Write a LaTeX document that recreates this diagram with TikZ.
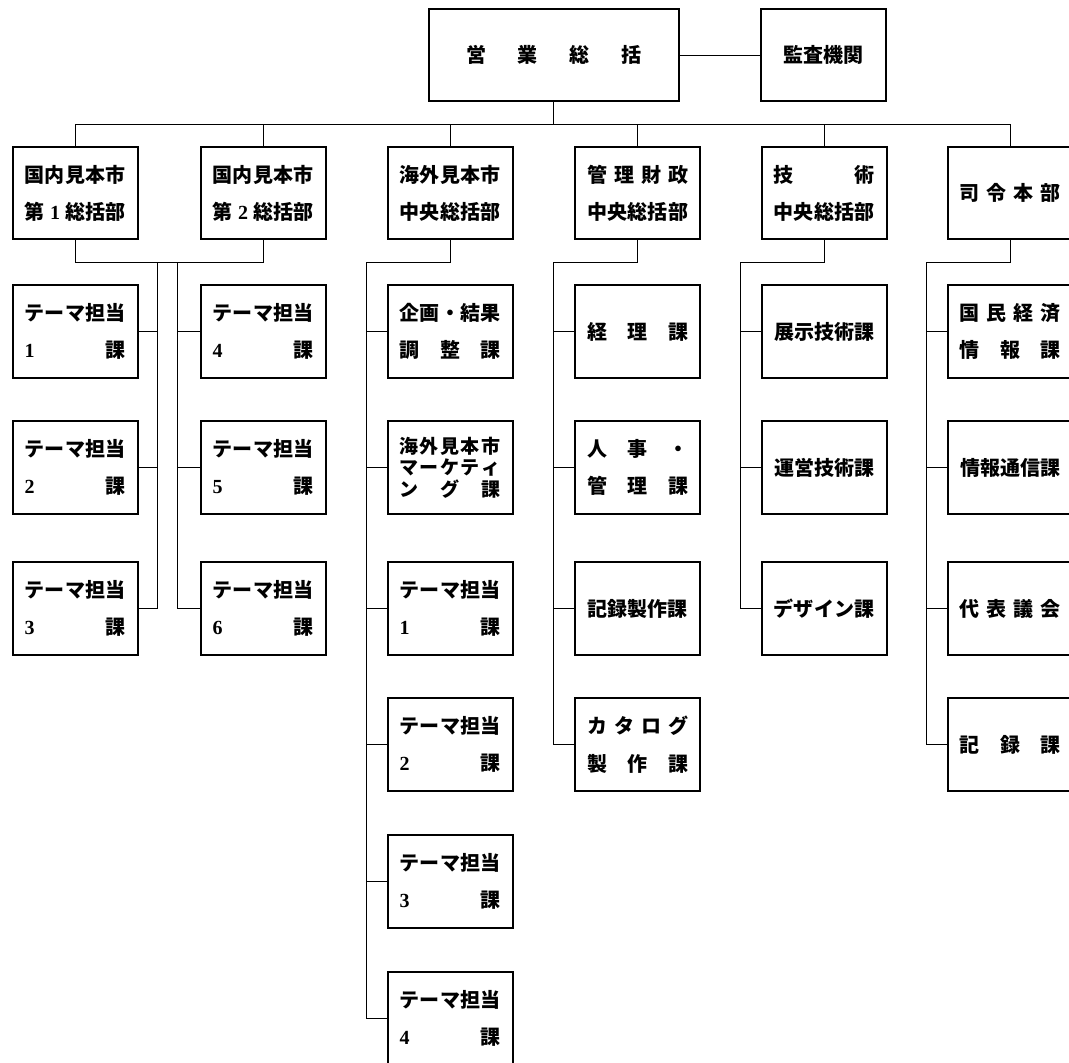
\documentclass[tikz,border=0pt]{standalone}
\usepackage{fontspec}
\newfontfamily\jpfont{Noto Sans CJK JP}
\newfontfamily\numfont{Liberation Serif}
\newcommand{\nm}[1]{{\numfont\bfseries #1}}
\newcommand{\kline}[1]{\makebox[101pt]{#1}}

\begin{document}
\begin{tikzpicture}[
    x=1pt,
    y=-1pt,
    ka/.style={draw, line width=2pt, minimum width=125pt, minimum height=93pt,
      inner sep=0pt, align=center, font=\jpfont\bfseries\fontsize{20}{37.5}\selectfont},
    tight/.style={font=\jpfont\bfseries\fontsize{19}{21.5}\selectfont},
    link/.style={line width=1pt}
]
\useasboundingbox (0,0) rectangle (1069,1063);

% -------------------------------------------------
% 営業総括・監査機関
% -------------------------------------------------

\node[ka, minimum width=250pt, minimum height=92pt] (eigyo) at (553.6,55.3)
  {\makebox[175pt]{営\hfill 業\hfill 総\hfill 括}};
\node[ka, minimum height=92pt] (kansa) at (823.4,55.3) {監査機関};

% -------------------------------------------------
% 総括部
% -------------------------------------------------

\node[ka, minimum height=92pt] (kokunai1) at (75,193.3)
  {\kline{国\hfill 内\hfill 見\hfill 本\hfill 市}\\\kline{第\hfill\nm{1}\hfill 総括部}};
\node[ka, minimum height=92pt] (kokunai2) at (263,193.3)
  {\kline{国\hfill 内\hfill 見\hfill 本\hfill 市}\\\kline{第\hfill\nm{2}\hfill 総括部}};
\node[ka, minimum height=92pt] (kaigai) at (450,193.3)
  {\kline{海\hfill 外\hfill 見\hfill 本\hfill 市}\\\kline{中\hfill 央\hfill 総\hfill 括\hfill 部}};
\node[ka, minimum height=92pt] (kanri) at (637.6,193.3)
  {\kline{管\hfill 理\hfill 財\hfill 政}\\\kline{中\hfill 央\hfill 総\hfill 括\hfill 部}};
\node[ka, minimum height=92pt] (gijutsu) at (824,193.3)
  {\kline{技\hfill 術}\\\kline{中\hfill 央\hfill 総\hfill 括\hfill 部}};
\node[ka, minimum height=92pt] (shirei) at (1010,193.3)
  {\kline{司\hfill 令\hfill 本\hfill 部}};

% -------------------------------------------------
% 国内見本市 第1・第2総括部の課
% -------------------------------------------------

\node[ka] (a1) at (75,331.5) {\kline{テ\hfill ー\hfill マ\hfill 担\hfill 当}\\\kline{\nm{1}\hfill 課}};
\node[ka] (a2) at (75,467.5) {\kline{テ\hfill ー\hfill マ\hfill 担\hfill 当}\\\kline{\nm{2}\hfill 課}};
\node[ka] (a3) at (75,608.5) {\kline{テ\hfill ー\hfill マ\hfill 担\hfill 当}\\\kline{\nm{3}\hfill 課}};

\node[ka] (b1) at (263,331.5) {\kline{テ\hfill ー\hfill マ\hfill 担\hfill 当}\\\kline{\nm{4}\hfill 課}};
\node[ka] (b2) at (263,467.5) {\kline{テ\hfill ー\hfill マ\hfill 担\hfill 当}\\\kline{\nm{5}\hfill 課}};
\node[ka] (b3) at (263,608.5) {\kline{テ\hfill ー\hfill マ\hfill 担\hfill 当}\\\kline{\nm{6}\hfill 課}};

% -------------------------------------------------
% 海外見本市中央総括部の課
% -------------------------------------------------

\node[ka] (c1) at (450,331.5) {\kline{企\hfill 画\hfill ・\hfill 結\hfill 果}\\\kline{調\hfill 整\hfill 課}};
\node[ka, tight] (c2) at (450,467.5)
  {\kline{海\hfill 外\hfill 見\hfill 本\hfill 市}\\\kline{マ\hfill ー\hfill ケ\hfill テ\hfill ィ}\\\kline{ン\hfill グ\hfill 課}};
\node[ka] (c3) at (450,608.5) {\kline{テ\hfill ー\hfill マ\hfill 担\hfill 当}\\\kline{\nm{1}\hfill 課}};
\node[ka] (c4) at (450,744.5) {\kline{テ\hfill ー\hfill マ\hfill 担\hfill 当}\\\kline{\nm{2}\hfill 課}};
\node[ka] (c5) at (450,881.5) {\kline{テ\hfill ー\hfill マ\hfill 担\hfill 当}\\\kline{\nm{3}\hfill 課}};
\node[ka] (c6) at (450,1018.5) {\kline{テ\hfill ー\hfill マ\hfill 担\hfill 当}\\\kline{\nm{4}\hfill 課}};

% -------------------------------------------------
% 管理財政中央総括部の課
% -------------------------------------------------

\node[ka] (d1) at (637.6,331.5) {\kline{経\hfill 理\hfill 課}};
\node[ka] (d2) at (637.6,467.5) {\kline{人\hfill 事\hfill ・}\\\kline{管\hfill 理\hfill 課}};
\node[ka] (d3) at (637.6,608.5) {\kline{記録製作課}};
\node[ka] (d4) at (637.6,744.5) {\kline{カ\hfill タ\hfill ロ\hfill グ}\\\kline{製\hfill 作\hfill 課}};

% -------------------------------------------------
% 技術中央総括部の課
% -------------------------------------------------

\node[ka] (e1) at (824,331.5) {\kline{展示技術課}};
\node[ka] (e2) at (824,467.5) {\kline{運営技術課}};
\node[ka] (e3) at (824,608.5) {\kline{デ\hfill ザ\hfill イ\hfill ン\hfill 課}};

% -------------------------------------------------
% 司令本部の課
% -------------------------------------------------

\node[ka] (f1) at (1010,331.5) {\kline{国\hfill 民\hfill 経\hfill 済}\\\kline{情\hfill 報\hfill 課}};
\node[ka] (f2) at (1010,467.5) {\kline{情報通信課}};
\node[ka] (f3) at (1010,608.5) {\kline{代\hfill 表\hfill 議\hfill 会}};
\node[ka] (f4) at (1010,744.5) {\kline{記\hfill 録\hfill 課}};

% -------------------------------------------------
% 連絡線
% -------------------------------------------------

\coordinate (bus) at (0,124.3);
\coordinate (jn)  at (0,262);
\coordinate (trA) at (157,262);
\coordinate (trB) at (177,262);
\coordinate (trC) at (366,262);
\coordinate (trD) at (553,262);
\coordinate (trE) at (740,262);
\coordinate (trF) at (926,262);

\draw[link] (eigyo) -- (kansa);
\draw[link] (eigyo.south) -- (eigyo.south |- bus);
\draw[link] (kokunai1.north) -- (kokunai1.north |- bus) -- (shirei.north |- bus) -- (shirei.north);
\draw[link] (kokunai2.north) -- (kokunai2.north |- bus);
\draw[link] (kaigai.north) -- (kaigai.north |- bus);
\draw[link] (kanri.north) -- (kanri.north |- bus);
\draw[link] (gijutsu.north) -- (gijutsu.north |- bus);

% 第1・第2総括部
\draw[link] (kokunai1.south) -- (kokunai1.south |- jn) -- (kokunai2.south |- jn) -- (kokunai2.south);
\draw[link] (trA) |- (a3.east);
\draw[link] (a1.east) -- (a1.east -| trA);
\draw[link] (a2.east) -- (a2.east -| trA);
\draw[link] (trB) |- (b3.west);
\draw[link] (b1.west) -- (b1.west -| trB);
\draw[link] (b2.west) -- (b2.west -| trB);

% 海外見本市
\draw[link] (kaigai.south) -- (kaigai.south |- jn) -- (trC) |- (c6.west);
\draw[link] (c1.west) -- (c1.west -| trC);
\draw[link] (c2.west) -- (c2.west -| trC);
\draw[link] (c3.west) -- (c3.west -| trC);
\draw[link] (c4.west) -- (c4.west -| trC);
\draw[link] (c5.west) -- (c5.west -| trC);

% 管理財政
\draw[link] (kanri.south) -- (kanri.south |- jn) -- (trD) |- (d4.west);
\draw[link] (d1.west) -- (d1.west -| trD);
\draw[link] (d2.west) -- (d2.west -| trD);
\draw[link] (d3.west) -- (d3.west -| trD);

% 技術
\draw[link] (gijutsu.south) -- (gijutsu.south |- jn) -- (trE) |- (e3.west);
\draw[link] (e1.west) -- (e1.west -| trE);
\draw[link] (e2.west) -- (e2.west -| trE);

% 司令本部
\draw[link] (shirei.south) -- (shirei.south |- jn) -- (trF) |- (f4.west);
\draw[link] (f1.west) -- (f1.west -| trF);
\draw[link] (f2.west) -- (f2.west -| trF);
\draw[link] (f3.west) -- (f3.west -| trF);

\end{tikzpicture}
\end{document}
